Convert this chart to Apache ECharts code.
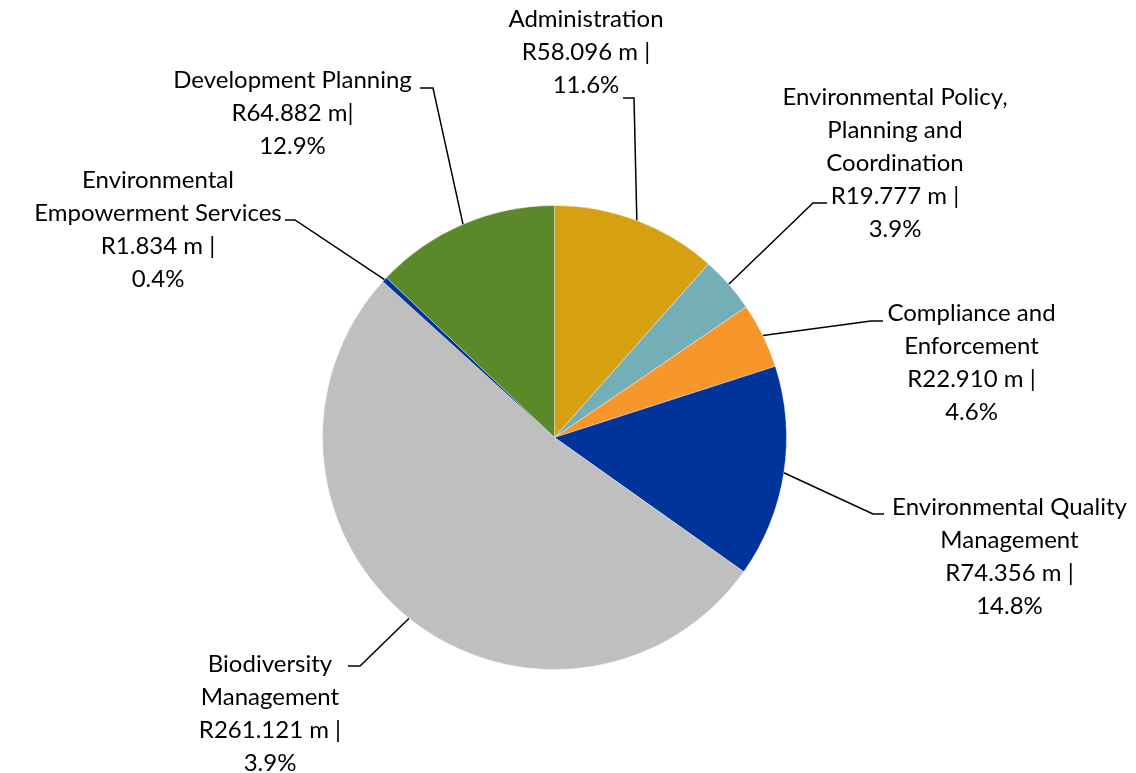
<!DOCTYPE html>
<html><head><meta charset="utf-8">
<script src="https://cdn.jsdelivr.net/npm/echarts@6/dist/echarts.min.js"></script>
<style>html,body{margin:0;padding:0;background:#fff}#c{width:1136px;height:773px}</style>
</head><body><div id="c"></div>
<script>
// ---- data ----
const categories = [
  'Administration',
  'Environmental Policy,\nPlanning and\nCoordination',
  'Compliance and\nEnforcement',
  'Environmental Quality\nManagement',
  'Biodiversity\nManagement',
  'Environmental\nEmpowerment Services',
  'Development Planning'
];
const values = [58.096, 19.777, 22.910, 74.356, 261.121, 1.834, 64.882];
const percentLabels = ['11.6%', '3.9%', '4.6%', '14.8%', '3.9%', '0.4%', '12.9%'];
const valueSeparators = [' |', ' |', ' |', ' |', ' |', ' |', '|'];

// ---- styling ----
const colors = ['#D6A011', '#74AFB7', '#F7962B', '#00349A', '#BFBFBF', '#00349A', '#5B892A'];
// label block: centre x, top y; leader elbow / end relative to that point
const labelPlacement = [
  {x: 586,   y: 3,     elbow: [48, 95],      end: [37, 95]},
  {x: 895,   y: 80.5,  elbow: [-82, 122.5],  end: [-68, 122.5]},
  {x: 971.5, y: 296.5, elbow: [-100.5, 24.5],end: [-88.5, 24.5]},
  {x: 1009.5,y: 490.5, elbow: [-136.5, 23.5],end: [-125.5, 23.5]},
  {x: 270,   y: 647.5, elbow: [90, 18.5],    end: [78, 18.5]},
  {x: 158,   y: 163.5, elbow: [137, 56.5],   end: [127, 56.5]},
  {x: 292.5, y: 63.5,  elbow: [140.5, 24.5], end: [127.5, 24.5]}
];

const chart = echarts.init(document.getElementById('c'), null, {renderer: 'canvas'});
chart.setOption({
  backgroundColor: '#fff',
  animation: false,
  series: [{
    type: 'pie',
    center: [554.5, 437.5],
    radius: 232,
    startAngle: 90,
    clockwise: true,
    avoidLabelOverlap: false,
    data: categories.map((c, i) => ({
      name: c, value: values[i],
      itemStyle: {color: colors[i]}
    })),
    itemStyle: {borderColor: 'rgba(255,255,255,0.6)', borderWidth: 0.6},
    label: {
      show: true,
      position: 'outside',
      color: '#000',
      fontFamily: 'Lato',
      fontSize: 24,
      lineHeight: 33,
      align: 'center',
      formatter: p => categories[p.dataIndex] + '\nR' + values[p.dataIndex].toFixed(3) + ' m' +
        valueSeparators[p.dataIndex] + '\n' + percentLabels[p.dataIndex]
    },
    labelLine: {show: true, length: 10, length2: 10, lineStyle: {color: '#000', width: 1.5}},
    labelLayout: function (p) {
      const L = labelPlacement[p.dataIndex];
      const res = {x: L.x, y: L.y, align: 'center', verticalAlign: 'top'};
      if (p.labelLinePoints && p.labelLinePoints.length) {
        res.labelLinePoints = [
          p.labelLinePoints[0],
          [L.x + L.elbow[0], L.y + L.elbow[1]],
          [L.x + L.end[0], L.y + L.end[1]]
        ];
      }
      return res;
    },
    emphasis: {disabled: true}
  }]
});
</script>
</body></html>
